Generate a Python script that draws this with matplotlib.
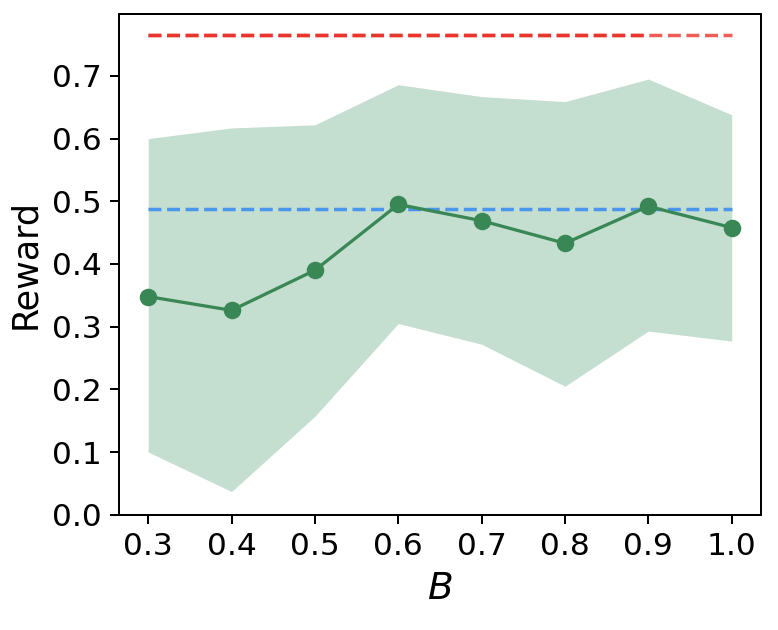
import numpy as np
import matplotlib
matplotlib.use("Agg")
import matplotlib.pyplot as plt

# values
B = [0.3, 0.4, 0.5, 0.6, 0.7, 0.8, 0.9, 1.0]
reward_mean = [0.348, 0.326, 0.390, 0.495, 0.469, 0.433, 0.492, 0.458]
reward_upper = [0.600, 0.617, 0.622, 0.686, 0.667, 0.659, 0.695, 0.638]
reward_lower = [0.100, 0.037, 0.157, 0.305, 0.272, 0.205, 0.293, 0.277]
red_ref = 0.765
blue_ref = 0.487
red_ref_short_end = 0.9

fig = plt.figure(figsize=(778 / 180, 630 / 180), dpi=180)
ax = fig.add_axes([0.153, 0.183, 0.825, 0.795])

ax.fill_between(B, reward_lower, reward_upper, color="#2e8b57", alpha=0.28, linewidth=0)
ax.plot([B[0], B[-1]], [red_ref, red_ref], "--", color="#e8281e", alpha=0.75, lw=1.4)
ax.plot([B[0], red_ref_short_end], [red_ref, red_ref], "--", color="#e8281e", alpha=0.75, lw=1.4)
ax.plot([B[0], B[-1]], [blue_ref, blue_ref], "--", color="#3d8ef0", alpha=0.9, lw=1.4)
ax.plot(B, reward_mean, marker="o", color="#3a8756", lw=1.3, markersize=6)

ax.set_xticks(B)
ax.set_xticklabels([f"{b:.1f}" for b in B])
ax.set_ylim(0, 0.799)
ax.set_yticks(np.arange(0, 0.75, 0.1))
ax.tick_params(labelsize=12.5)
ax.set_xlabel("$B$", fontsize=15)
ax.set_ylabel("Reward", fontsize=14)

fig.savefig("out.png", dpi=180)
